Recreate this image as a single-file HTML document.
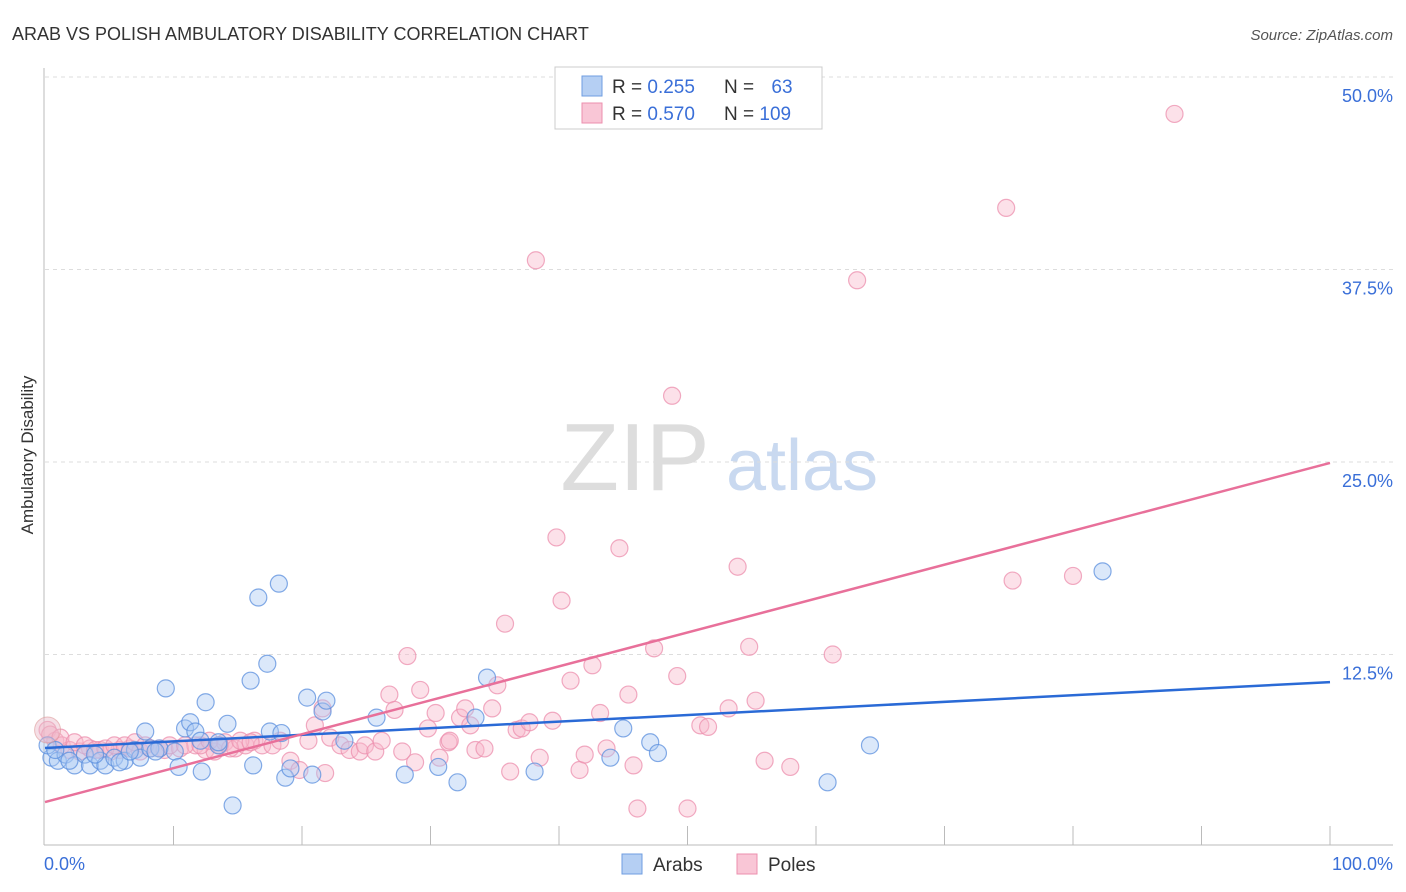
<!DOCTYPE html>
<html><head><meta charset="utf-8">
<style>
body{margin:0;background:#fff;font-family:"Liberation Sans",sans-serif;}
#wrap{position:relative;width:1406px;height:892px;overflow:hidden;}
svg text{font-family:"Liberation Sans",sans-serif;}
</style></head>
<body>
<div id="wrap">
<svg id="chart" width="1406" height="892">
<text x="12" y="40" font-size="18" fill="#333">ARAB VS POLISH AMBULATORY DISABILITY CORRELATION CHART</text>
<text x="1393" y="40" font-size="15" fill="#555" text-anchor="end" font-style="italic">Source: ZipAtlas.com</text>
<text x="33" y="455" font-size="17" fill="#333" text-anchor="middle" transform="rotate(-90 33 455)">Ambulatory Disability</text>
<g>
<text x="635" y="490" font-size="96" fill="#ddd" text-anchor="middle" font-family="Liberation Serif">ZIP</text>
<text x="802" y="490" font-size="72" fill="#c9d9f0" text-anchor="middle">atlas</text>
</g>
<g id="grid"></g>
<g id="axes"></g>
<g id="pts"></g>
<g id="lines"></g>
<g>
<rect x="555" y="67" width="267" height="62" fill="#fff" stroke="#ccc"/>
<rect x="582" y="76" width="20" height="20" fill="#b5cff3" stroke="#6f9ee0"/>
<text x="612" y="93" font-size="19" fill="#333">R = <tspan fill="#3a6fd8">0.255</tspan></text>
<text x="724" y="93" font-size="19" fill="#333">N = <tspan fill="#3a6fd8" dx="12">63</tspan></text>
<rect x="582" y="103" width="20" height="20" fill="#f9c6d6" stroke="#ec8fae"/>
<text x="612" y="120" font-size="19" fill="#333">R = <tspan fill="#3a6fd8">0.570</tspan></text>
<text x="724" y="120" font-size="19" fill="#333">N = <tspan fill="#3a6fd8">109</tspan></text>
</g>
<g>
<rect x="622" y="854" width="20" height="20" fill="#b5cff3" stroke="#6f9ee0"/>
<text x="653" y="871" font-size="19" fill="#333">Arabs</text>
<rect x="737" y="854" width="20" height="20" fill="#f9c6d6" stroke="#ec8fae"/>
<text x="768" y="871" font-size="19" fill="#333">Poles</text>
</g>
</svg>
</div>
<script>
const yTicks=[12.5,25,37.5,50];
const yTickLabels=["12.5%","25.0%","37.5%","50.0%"];
const xTickLabels=["0.0%","100.0%"];
const arabX=[0.5,1.0,1.6,2.3,3.1,3.5,4.3,4.7,5.4,6.2,7.0,7.4,7.8,8.2,8.9,9.4,10.1,10.4,10.9,11.3,11.7,12.2,12.5,13.5,14.2,16.0,16.2,16.6,17.3,17.5,18.2,18.4,18.7,19.1,20.4,20.8,21.6,21.9,23.3,25.8,28.0,30.6,32.1,33.5,34.4,38.1,44.0,45.0,47.1,47.7,60.9,64.2,82.3,14.6,0.2,0.8,1.9,3.9,5.8,6.6,8.6,12.1,13.5];
const arabY=[5.8,5.6,6.0,5.3,6.0,5.3,5.6,5.3,5.8,5.6,6.3,5.8,7.5,6.4,6.4,10.3,6.2,5.2,7.7,8.1,7.5,4.9,9.4,6.6,8.0,10.8,5.3,16.2,11.9,7.5,17.1,7.4,4.5,5.1,9.7,4.7,8.8,9.5,6.9,8.4,4.7,5.2,4.2,8.4,11.0,4.9,5.8,7.7,6.8,6.1,4.2,6.6,17.9,2.7,6.6,6.3,5.6,6.0,5.5,6.2,6.2,6.9,6.8];
const poleX=[0.2,0.8,1.3,1.9,2.7,3.5,4.3,5.1,5.8,6.6,7.4,8.2,9.3,10.5,11.7,12.5,13.2,14.0,14.8,15.6,16.3,16.9,17.7,18.3,19.1,19.8,20.5,21.0,21.6,21.8,22.2,23.0,23.7,24.5,24.9,25.7,26.2,26.8,27.2,27.8,28.2,28.8,29.2,29.8,30.4,30.7,31.4,31.5,32.3,32.7,33.1,33.5,34.2,34.8,35.2,35.8,36.2,36.7,37.1,37.7,38.2,38.5,39.5,39.8,40.2,40.9,41.6,42.0,42.6,43.2,43.7,44.7,45.4,45.8,46.1,47.4,48.8,49.2,50.0,51.0,51.6,53.2,53.9,54.8,55.3,56.0,58.0,61.3,63.2,74.8,75.3,80.0,87.9,0.4,1.2,2.3,3.1,3.9,4.7,5.4,6.2,7.0,7.8,8.9,9.7,10.9,12.1,12.8,13.6,14.4,15.2,16.0];
const poleY=[7.6,6.9,6.6,6.3,6.2,6.4,6.3,6.2,6.3,6.4,6.2,6.4,6.3,6.4,6.6,6.3,6.2,6.8,6.4,6.6,6.9,6.6,6.6,6.9,5.6,5.0,6.9,7.9,9.0,4.8,7.1,6.6,6.3,6.2,6.6,6.2,6.9,9.9,8.9,6.2,12.4,5.5,10.2,7.7,8.7,5.8,6.8,6.9,8.4,9.0,7.9,6.3,6.4,9.0,10.5,14.5,4.9,7.6,7.7,8.1,38.1,5.8,8.2,20.1,16.0,10.8,5.0,6.0,11.8,8.7,6.4,19.4,9.9,5.3,2.5,12.9,29.3,11.1,2.5,7.9,7.8,9.0,18.2,13.0,9.5,5.6,5.2,12.5,36.8,41.5,17.3,17.6,47.6,7.3,7.1,6.8,6.6,6.3,6.4,6.6,6.6,6.8,6.6,6.4,6.6,6.6,6.6,6.9,6.6,6.4,6.9,6.8];
const arabTrend=[6.43,10.71];
const poleTrend=[2.92,24.94];

const NS="http://www.w3.org/2000/svg";
const X0=45,X1=1330,Y0=847,PX_PER=15.4;
function sx(v){return X0+(X1-X0)*v/100;}
function sy(v){return Y0-v*PX_PER;}
function mk(tag,attrs,parent){const e=document.createElementNS(NS,tag);for(const k in attrs)e.setAttribute(k,attrs[k]);parent.appendChild(e);return e;}
const grid=document.getElementById('grid'),axes=document.getElementById('axes'),pts=document.getElementById('pts'),lines=document.getElementById('lines');
yTicks.forEach((t,i)=>{
 const l=mk('line',{x1:45,x2:1393,y1:sy(t),y2:sy(t),stroke:'#ddd','stroke-dasharray':'4,4'},grid);
 
 
 const tx=mk('text',{x:1393,y:sy(t)+25,'font-size':18,fill:'#3a6fd8','text-anchor':'end'},axes);
 tx.textContent=yTickLabels[i];
 
 
});
const ya=mk('line',{x1:44,x2:44,y1:68,y2:845,stroke:'#bbb'},axes);


const xa=mk('line',{x1:44,x2:1393,y1:845,y2:845,stroke:'#bbb'},axes);


for(let i=1;i<=10;i++){
 const t=mk('line',{x1:sx(i*10),x2:sx(i*10),y1:826,y2:845,stroke:'#bbb'},axes);
 
 
}
[[0,'start',44],[100,'end',1393]].forEach((d,i)=>{
 const tx=mk('text',{x:d[2],y:870,'font-size':18,fill:'#3a6fd8','text-anchor':d[1]},axes);
 tx.textContent=xTickLabels[i];
 
 
});
function plot(xs,ys,fill,stroke,name){
 xs.forEach((x,i)=>{
  const c=mk('circle',{cx:sx(x),cy:sy(ys[i]),r:8.5,fill:fill,'fill-opacity':0.42,stroke:stroke,'stroke-width':1.2,'stroke-opacity':0.75},pts);
  
  
 });
}
plot(poleX,poleY,'#f7b8cb','#ec8fae','point-poles');
plot(arabX,arabY,'#aac8f2','#5b8fdd','point-arabs');
const big1=mk('circle',{cx:sx(0.2),cy:sy(7.6),r:13,fill:'#e8b8c8','fill-opacity':0.45,stroke:'#d99',"stroke-opacity":0.6},pts);


const la=mk('line',{x1:sx(0),y1:sy(arabTrend[0]),x2:sx(100),y2:sy(arabTrend[1]),stroke:'#2a6ad6','stroke-width':2.5},lines);


const lp=mk('line',{x1:sx(0),y1:sy(poleTrend[0]),x2:sx(100),y2:sy(poleTrend[1]),stroke:'#e8709a','stroke-width':2.5},lines);


</script>
</body></html>
